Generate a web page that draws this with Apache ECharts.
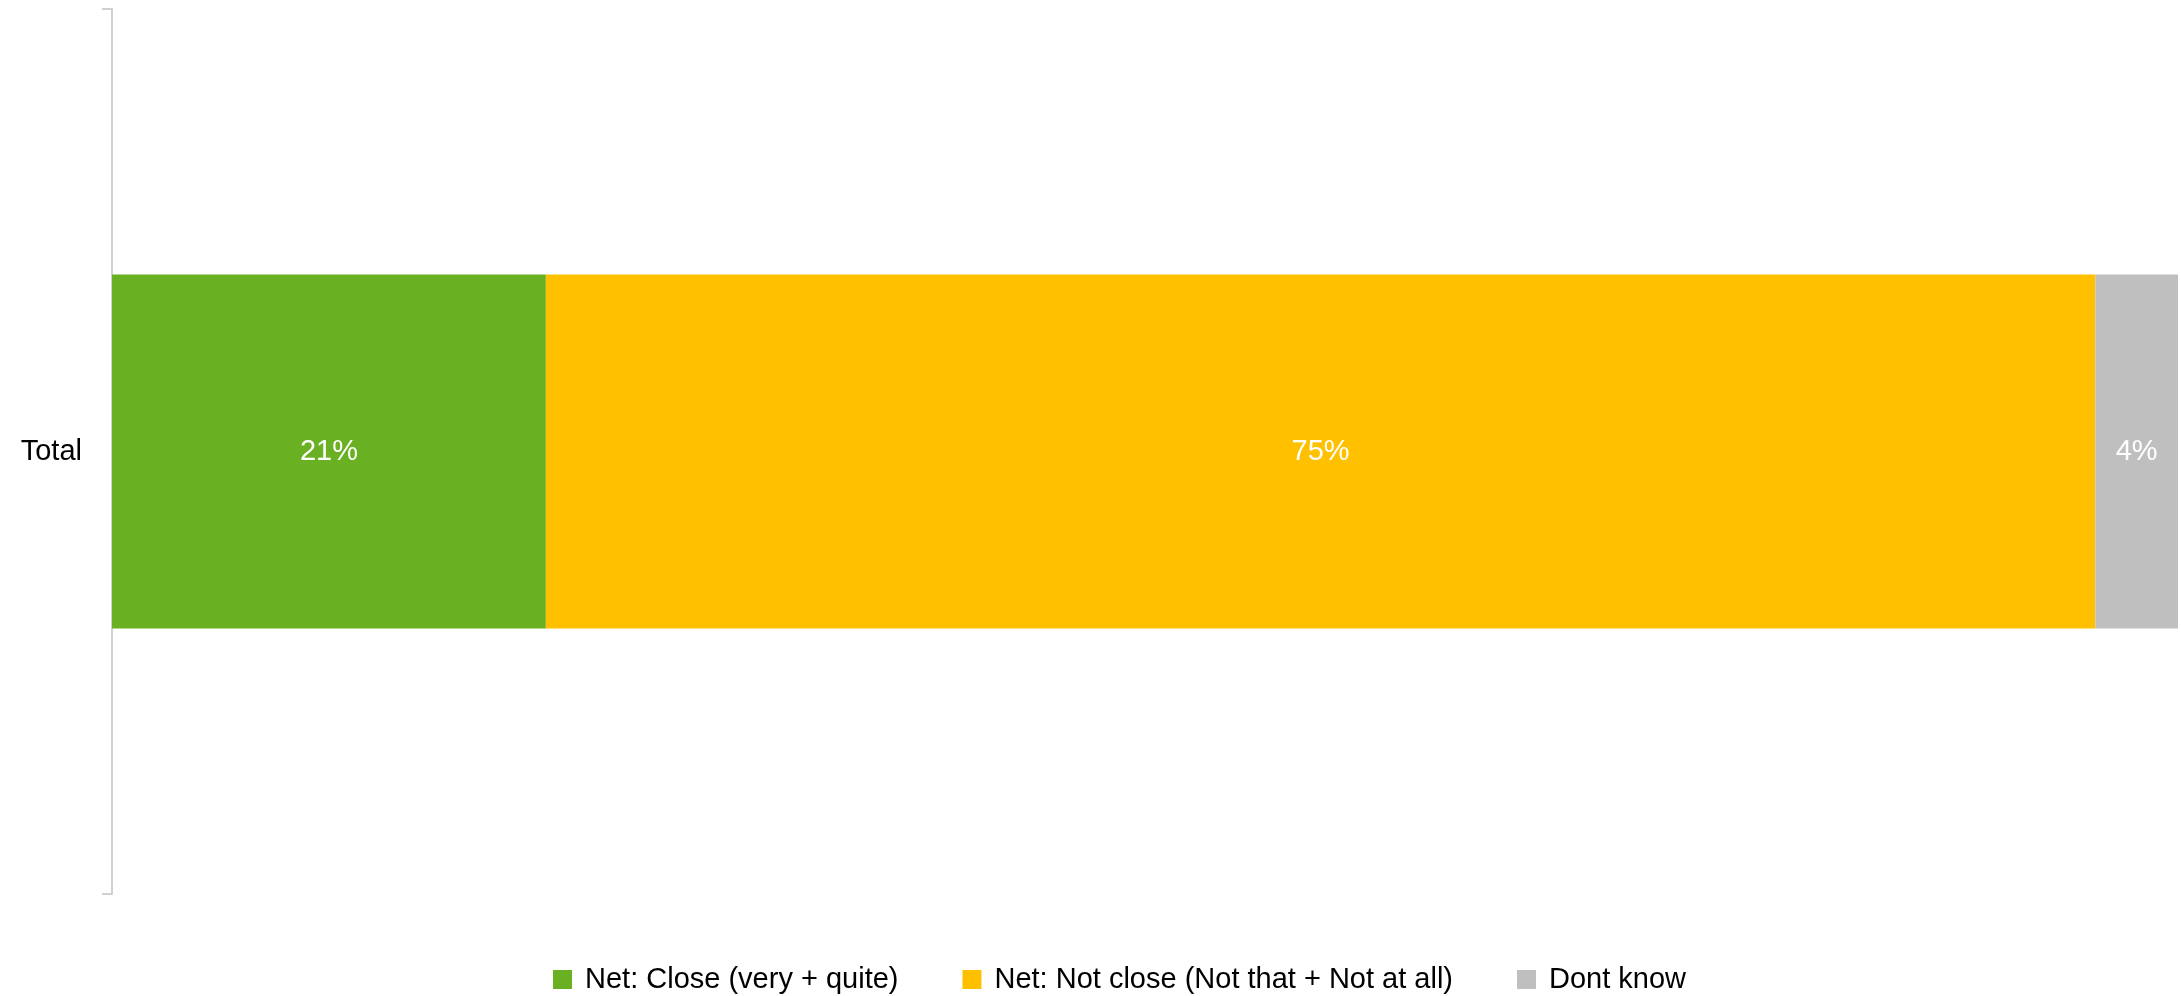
<!DOCTYPE html>
<html>
<head>
<meta charset="utf-8">
<script src="https://cdn.jsdelivr.net/npm/echarts@6/dist/echarts.min.js"></script>
<style>html,body{margin:0;padding:0;background:#fff}#c{width:2181px;height:996px}</style>
</head>
<body>
<div id="c"></div>
<script>
var categories = ['Total'];
var seriesNames = ['Net: Close (very + quite)', 'Net: Not close (Not that + Not at all)', 'Dont know'];
var closeValues = [21];
var notCloseValues = [75];
var dontKnowValues = [4];
var colors = ['#6AB023', '#FFC000', '#BFBFBF'];

var font = 'Liberation Sans, Arial, sans-serif';
var chart = echarts.init(document.getElementById('c'));
function mk(name, data, color) {
  return {
    name: name, type: 'bar', stack: 'total', data: data, barWidth: '40%',
    itemStyle: { color: color },
    label: { show: true, position: 'inside', color: '#fff', fontSize: 29, fontFamily: font,
      formatter: function (p) { return p.value + '%'; } }
  };
}
chart.setOption({
  animation: false,
  color: colors,
  grid: { left: 112, right: 3, top: 9, bottom: 102, containLabel: false },
  xAxis: { type: 'value', min: 0, max: 100, show: false },
  yAxis: {
    type: 'category', data: categories,
    axisLine: { show: true, lineStyle: { color: '#d0d0d0', width: 2 } },
    axisTick: { show: true, length: 10, lineStyle: { color: '#d0d0d0', width: 2 } },
    axisLabel: { fontSize: 29, color: '#000', fontFamily: font, margin: 30 }
  },
  legend: {
    bottom: -3, left: 548, itemWidth: 19, itemHeight: 19, itemGap: 64,
    icon: 'rect',
    textStyle: { fontSize: 29, color: '#000', fontFamily: font, padding: [0, 0, 0, 8] },
    data: seriesNames
  },
  series: [
    mk(seriesNames[0], closeValues, colors[0]),
    mk(seriesNames[1], notCloseValues, colors[1]),
    mk(seriesNames[2], dontKnowValues, colors[2])
  ]
});
</script>
</body>
</html>
